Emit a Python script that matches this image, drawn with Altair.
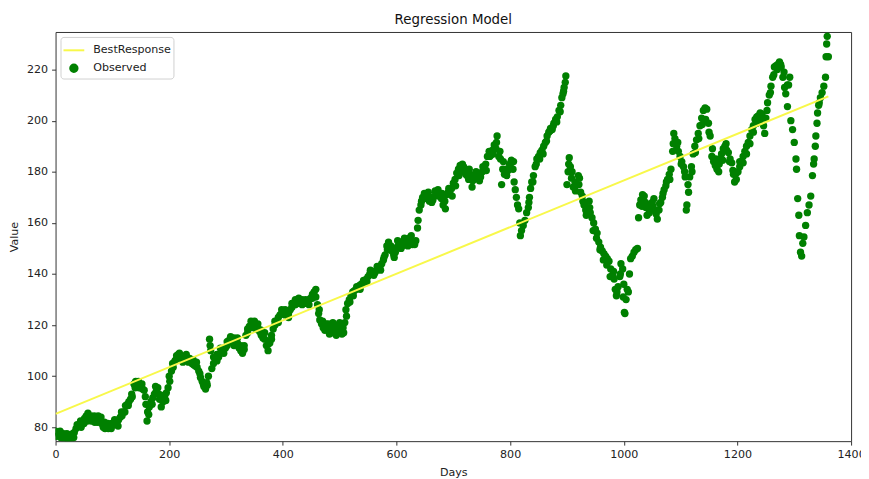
import altair as alt
import pandas as pd

# Observed series (day, value): centre of the band
DAYS = [
    0, 3, 6, 9, 12, 15, 18, 21, 24, 27, 30, 33, 36, 39, 42, 45, 48, 51, 54, 57,
    60, 63, 66, 69, 72, 75, 78, 81, 84, 87, 90, 93, 96, 99, 102, 105, 108, 111, 114, 117,
    120, 123, 126, 129, 132, 135, 138, 141, 144, 147, 150, 153, 156, 159, 161, 162, 165, 168, 171, 174,
    177, 180, 183, 186, 189, 192, 195, 198, 201, 204, 207, 210, 213, 216, 219, 222, 225, 228, 231, 234,
    237, 240, 243, 246, 249, 252, 255, 258, 261, 264, 267, 269, 271, 273, 275, 278, 281, 284, 287, 290,
    293, 296, 299, 302, 305, 308, 311, 314, 317, 320, 323, 326, 329, 332, 335, 338, 341, 344, 347, 350,
    353, 356, 359, 362, 365, 368, 371, 374, 377, 380, 383, 386, 389, 392, 395, 398, 401, 404, 407, 410,
    413, 416, 419, 422, 425, 428, 431, 434, 437, 440, 443, 446, 449, 452, 455, 458, 461, 463, 465, 468,
    471, 474, 477, 480, 483, 486, 489, 492, 495, 498, 501, 504, 507, 509, 511, 514, 517, 520, 523, 526,
    529, 532, 535, 538, 541, 544, 547, 550, 553, 556, 559, 562, 565, 568, 571, 574, 577, 580, 583, 586,
    589, 592, 595, 598, 601, 604, 607, 610, 613, 616, 619, 622, 625, 628, 631, 634, 637, 640, 643, 646,
    649, 652, 655, 658, 661, 664, 667, 670, 673, 676, 679, 682, 685, 688, 691, 694, 697, 700, 703, 706,
    709, 712, 715, 718, 721, 724, 727, 730, 733, 736, 739, 742, 745, 748, 751, 754, 757, 760, 763, 766,
    769, 772, 775, 777, 780, 783, 785, 787, 790, 793, 796, 799, 802, 805, 807, 809, 811, 813, 815, 817,
    818, 820, 823, 826, 829, 832, 834, 836, 838, 841, 844, 847, 850, 853, 856, 859, 862, 865, 868, 871,
    874, 877, 880, 883, 886, 889, 891, 893, 895, 897, 898, 900, 902, 904, 906, 908, 911, 914, 917, 920,
    922, 924, 927, 930, 933, 936, 939, 941, 944, 947, 950, 953, 956, 959, 962, 965, 968, 971, 974, 977,
    980, 983, 985, 987, 990, 993, 995, 998, 1000, 1001, 1002, 1004, 1006, 1008, 1010, 1012, 1015, 1018, 1021, 1024,
    1026, 1028, 1030, 1033, 1036, 1039, 1041, 1044, 1047, 1050, 1053, 1056, 1059, 1062, 1065, 1068, 1071, 1074, 1077, 1080,
    1083, 1086, 1088, 1090, 1093, 1096, 1099, 1102, 1105, 1108, 1110, 1111, 1113, 1116, 1119, 1122, 1125, 1128, 1131, 1134,
    1137, 1140, 1143, 1146, 1149, 1152, 1155, 1158, 1161, 1164, 1167, 1169, 1172, 1175, 1178, 1181, 1184, 1187, 1190, 1193,
    1195, 1198, 1201, 1204, 1207, 1210, 1213, 1216, 1219, 1222, 1225, 1228, 1231, 1234, 1237, 1240, 1243, 1246, 1248, 1250,
    1253, 1256, 1259, 1262, 1265, 1268, 1271, 1274, 1277, 1280, 1283, 1285, 1288, 1290, 1292, 1294, 1297, 1300, 1303, 1304,
    1306, 1308, 1309, 1311, 1313, 1315, 1317, 1320, 1323, 1326, 1329, 1332, 1334, 1335, 1337, 1338, 1340, 1341, 1343, 1344,
    1346, 1349, 1352, 1355, 1356, 1357, 1358, 1359, 1360,
]
VALUES = [
    78.5, 78, 77, 76, 77, 75.5, 76.5, 75.5, 77, 76, 77.5, 78, 79.5, 80.5, 81, 80, 82, 83.5, 84.5, 85.5,
    84, 82.5, 83, 82, 83.5, 84.5, 83, 81.5, 80, 79.5, 80.5, 79.5, 80.5, 81.5, 81, 82, 81.5, 83, 84, 84.5,
    86, 88.5, 89, 90, 91, 92, 97, 98, 96, 95.5, 96, 95, 94.5, 89, 82.5, 86, 88, 90, 91.5, 93,
    94, 95.5, 91, 88, 90, 92, 93.5, 95.5, 98, 102, 103.5, 106, 108, 108.5, 107.5, 107, 106.5, 107.5, 106.5, 105.5,
    106, 105, 104.5, 104, 103.5, 102, 99.5, 98, 96, 95, 96.5, 100, 114.5, 110, 103, 105, 107, 108.5, 107.5, 109,
    110, 109, 111, 112, 114, 115.5, 113.5, 112, 114, 113, 111, 110, 109, 112, 116, 118.5, 119.5, 120, 119, 120,
    118.5, 119, 117.5, 116, 115, 114.5, 112, 110, 113, 116, 118.5, 120, 121.5, 123, 124, 124.5, 125, 124, 125, 124.5,
    126, 127, 128.5, 130, 129, 130.5, 129.5, 128, 129, 130, 129, 128, 130.5, 132, 133, 131, 128, 124.5, 122, 120.5,
    119, 118, 119.5, 120.5, 118, 117, 119.5, 120, 118, 117.5, 119.5, 116.5, 117, 121, 126, 128.5, 130, 131.5, 133, 133.5,
    134, 134.5, 135.5, 136, 136.5, 137, 138, 139, 140, 140.5, 141, 140.5, 141.5, 142.5, 143, 144, 145.5, 147.5, 151, 152.5,
    150, 149, 147.5, 148.5, 150.5, 151.5, 152.5, 151, 152.5, 153.5, 152, 154, 153, 151.5, 152.5, 153, 158, 165, 167, 170,
    171.5, 170.5, 169.5, 168.5, 170, 169, 170.5, 172, 173, 171.5, 169.5, 167, 168.5, 171, 172, 171.5, 173.5, 175.5, 177, 179.5,
    181, 182.5, 180, 182, 181, 178.5, 177, 179, 174, 177, 178.5, 177.5, 179, 178, 180, 181, 183, 186, 188, 186.5,
    188.5, 190.5, 189, 194, 186, 185, 175, 181, 179, 181, 180.5, 183, 184.5, 181, 176, 173, 170, 167, 165.5, 160,
    155, 157, 159, 161, 164, 166, 170, 173.5, 176, 178.5, 182, 185, 186, 187.5, 188.5, 190, 191.5, 194, 195.5, 197,
    196.5, 199, 200.5, 201.5, 204, 206, 209, 210.5, 213, 215, 217.5, 175, 180, 185.5, 182, 177.5, 174, 176, 175, 178.5,
    177.5, 172, 170.5, 167, 165, 166, 168.5, 164, 162, 160, 157.5, 156, 152.5, 150.5, 149, 148, 147, 146, 145, 142,
    139.5, 138, 134, 131.5, 135, 139, 144, 142, 136, 125, 124.5, 130, 134, 133, 140, 146, 147, 148.5, 149.5, 150,
    162, 167, 169, 171, 170.5, 166, 163, 167, 165.5, 168, 169.5, 165, 161.5, 165, 168, 170, 173, 174.5, 177, 179,
    181, 188, 195, 193, 190, 188, 186, 184, 182, 178, 165, 167, 175, 178, 182, 187, 190, 192.5, 195, 198,
    201, 204, 205, 204.5, 199, 194, 186, 184, 182.5, 181, 180, 185, 187, 189, 190, 188.5, 187.5, 185, 183.5, 179,
    176, 177, 180, 182, 184, 186, 188, 190, 191.5, 194, 196.5, 198, 200.5, 201.5, 202, 203, 202.5, 198, 195, 201,
    207, 210, 213.5, 217, 221, 221.5, 222, 223, 221, 217, 213, 210.5, 205.5, 214, 217, 200, 196.5, 191.5, 185, 181,
    169.5, 163, 155, 148.5, 147, 152, 154.5, 159, 164, 167, 170.5, 178.5, 183, 185, 190, 194, 199, 203, 206, 207,
    209, 211, 213.5, 217, 225, 230, 233, 236, 225,
]

EDGE_DAYS = [
    2, 8, 14, 20, 26, 32, 38, 44, 50, 56, 62, 68, 74, 80, 86, 92, 98, 104, 110, 116,
    122, 128, 134, 140, 146, 152, 158, 164, 170, 176, 182, 188, 194, 200, 206, 212, 218, 224, 230, 236,
    242, 248, 254, 260, 266, 272, 278, 284, 290, 296, 302, 308, 314, 320, 326, 332, 338, 344, 350, 356,
    362, 368, 374, 380, 386, 392, 398, 404, 410, 416, 422, 428, 434, 440, 446, 452, 458, 464, 470, 476,
    482, 488, 494, 500, 506, 512, 518, 524, 530, 536, 542, 548, 554, 560, 566, 572, 578, 584, 590, 596,
    602, 608, 614, 620, 626, 632, 638, 644, 650, 656, 662, 668, 674, 680, 686, 692, 698, 704, 710, 716,
    722, 728, 734, 740, 746, 752, 758, 764, 770, 776, 782, 788, 794, 800, 806, 833, 840, 846, 852, 858,
    864, 870, 876, 882, 888, 894, 903, 909, 915, 921, 928, 934, 940, 946, 952, 958, 964, 970, 976, 982,
    988, 994, 999, 1032, 1038, 1045, 1051, 1057, 1063, 1069, 1075, 1081, 1087, 1095, 1101, 1107, 1114, 1120, 1126, 1132,
    1138, 1144, 1150, 1156, 1162, 1168, 1174, 1180, 1186, 1192, 1198, 1204, 1210, 1216, 1222, 1228, 1234, 1240, 1246, 1252,
    1258, 1264, 1270, 1276, 1282, 1288,
]
EDGE_VALUES = [
    76.5, 78.5, 77.5, 77.5, 75, 76, 81, 82.5, 81.5, 82.5, 84.5, 84.5, 82, 84, 82, 81.5, 79.5, 83, 80.5, 86,
    86, 88.5, 93, 95.5, 98, 97, 92, 85, 89, 96, 93, 92.5, 90.5, 100, 105, 106.5, 109, 105.5, 108.5, 107,
    106.5, 105.5, 101, 97, 97.5, 112, 107.5, 106, 111, 111, 113.5, 113.5, 115, 115, 112, 110.5, 117, 121.5, 121.5, 120.5,
    118, 117, 112.5, 114.5, 121.5, 121, 126, 126, 123, 128.5, 128, 128.5, 130, 128.5, 130, 130.5, 134, 126, 121.5, 120.5,
    116.5, 121, 116, 121, 119, 123.5, 129, 131.5, 135, 134, 137.5, 137, 141.5, 139.5, 143, 141.5, 146.5, 149.5, 151, 146.5,
    153, 150, 154, 151, 155, 151.5, 161, 168.5, 169.5, 172, 168, 172.5, 170.5, 171.5, 165.5, 173.5, 170.5, 174.5, 178.5, 183,
    179, 181, 176.5, 180, 176.5, 182, 180.5, 186, 187, 191.5, 188, 184, 178.5, 182.5, 184, 168, 176, 183, 185, 187,
    192, 196, 198, 199.5, 203.5, 211.5, 183, 180, 172.5, 175, 168.5, 163, 166, 157, 154, 149.5, 145.5, 143.5, 139, 141,
    133, 140, 131, 166.5, 168, 164, 166.5, 163.5, 167.5, 171.5, 176, 177, 191, 191.5, 183, 180, 172, 180, 187.5, 193,
    198.5, 200.5, 195.5, 189, 185, 183, 184.5, 191, 184, 180.5, 179.5, 184, 183.5, 187, 191, 195.5, 199, 200.5, 201, 204,
    211, 218, 220, 222, 219, 214,
]

# Fitted regression line end points
LINE_DAYS = [0, 1360]
LINE_VALUES = [85.3, 209.5]

X_TICKS = [0, 200, 400, 600, 800, 1000, 1200, 1400]
Y_TICKS = [80, 100, 120, 140, 160, 180, 200, 220]
SERIES = ["BestResponse", "Observed"]

obs = pd.DataFrame({"Days": DAYS + EDGE_DAYS, "Value": VALUES + EDGE_VALUES, "series": "Observed"})
fit = pd.DataFrame({"Days": LINE_DAYS, "Value": LINE_VALUES, "series": "BestResponse"})

FONT = "DejaVu Sans"
YELLOW = "#f8f84a"
GREEN = "#008000"
FS = 11.2

x_scale = alt.Scale(domain=[0, 1400], nice=False, zero=False)
y_scale = alt.Scale(domain=[74.6, 234.7], nice=False, zero=False)

x_axis = alt.Axis(values=X_TICKS, format="d", title="Days", grid=False, tickSize=4, labelPadding=4,
                  titlePadding=6, labelFontSize=FS, titleFontSize=FS, domain=False,
                  tickColor="#333", labelColor="#222", titleColor="#222", titleFontWeight="normal",
                  labelFont=FONT, titleFont=FONT, labelFlush=False)
y_axis = alt.Axis(values=Y_TICKS, format="d", title="Value", grid=False, tickSize=4, labelPadding=4,
                  titlePadding=7, labelFontSize=FS, titleFontSize=FS, domain=False,
                  tickColor="#333", labelColor="#222", titleColor="#222", titleFontWeight="normal",
                  labelFont=FONT, titleFont=FONT, labelFlush=False)

legend = alt.Legend(
    title=None, orient="top-left", offset=5, padding=2, rowPadding=4,
    labelFont=FONT, labelFontSize=FS, labelColor="#222", labelOffset=8,
    strokeColor="#d0d0d0", fillColor="white", cornerRadius=3,
    symbolStrokeWidth=2, symbolOpacity=1,
)

color = alt.Color("series:N", scale=alt.Scale(domain=SERIES, range=[YELLOW, GREEN]),
                  legend=legend)
shape = alt.Shape("series:N", scale=alt.Scale(domain=SERIES, range=["stroke", "circle"]),
                  legend=legend)
size = alt.Size("series:N", scale=alt.Scale(domain=SERIES, range=[441, 55]), legend=legend)

points = alt.Chart(obs).mark_point(filled=True, opacity=1, clip=True).encode(
    x=alt.X("Days:Q", scale=x_scale, axis=x_axis),
    y=alt.Y("Value:Q", scale=y_scale, axis=y_axis),
    color=color,
    shape=shape,
    size=size,
)

line = alt.Chart(fit).mark_line(strokeWidth=2, clip=True).encode(
    x=alt.X("Days:Q", scale=x_scale),
    y=alt.Y("Value:Q", scale=y_scale),
    color=color,
)

chart = alt.layer(points, line).properties(
    width=803, height=413,
    background="white",
    title=alt.Title("Regression Model", font=FONT, fontSize=13.5, fontWeight="normal",
                    color="#111", offset=6),
    autosize=alt.AutoSizeParams(type="none"),
    padding={"left": 48, "top": 22, "right": 10, "bottom": 36},
).configure_view(stroke="#333", strokeWidth=1)

chart.save("out.html", embed_options={"renderer": "svg", "actions": False})
